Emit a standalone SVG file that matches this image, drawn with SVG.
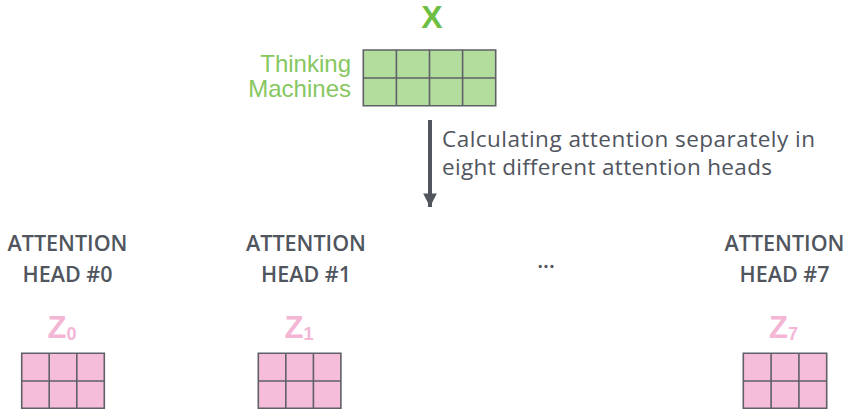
<svg xmlns="http://www.w3.org/2000/svg" width="854" height="416" viewBox="0 0 854 416">
<defs>
<style>
.head{font-family:"Open Sans","Liberation Sans",sans-serif;font-weight:600;font-size:21.5px;fill:#50555e;text-anchor:middle}
.cap{font-family:"Open Sans","Liberation Sans",sans-serif;font-size:22.5px;fill:#50555e}
.word{font-family:"Liberation Sans",Arial,sans-serif;font-size:24px;fill:#86c760;text-anchor:end}
.z{font-family:"Liberation Sans",Arial,sans-serif;font-weight:bold;font-size:31px;fill:#f4b6d5}
.zs{font-size:18px}
.x{font-family:"Liberation Sans",Arial,sans-serif;font-weight:bold;font-size:32px;fill:#6fbe44;text-anchor:middle}
.green{fill:#b3dd9c}
.pink{fill:#f5bdd9}
.grid{fill:none;stroke:#5f6068;stroke-width:1.6}
</style>
<marker id="ah" viewBox="0 0 10 10" refX="10" refY="5" markerWidth="3.4" markerHeight="3.4" markerUnits="strokeWidth" orient="auto">
<path d="M0,0 L10,5 L0,10 z" fill="#50555e"/>
</marker>
</defs>

<g id="input-x">
<text class="x" x="432" y="27.5">X</text>
<text class="word" x="351" y="72">Thinking</text>
<text class="word" x="351" y="97">Machines</text>
<rect class="green" x="363.3" y="50" width="132.4" height="55.7"/>
<path class="grid" d="M363.3,50 H495.7 V105.7 H363.3 Z M396.4,50 V105.7 M429.5,50 V105.7 M462.6,50 V105.7 M363.3,78 H495.7"/>
</g>

<g id="connectors">
<line x1="430" y1="120" x2="430" y2="207" stroke="#50555e" stroke-width="4" marker-end="url(#ah)"/>
</g>

<g id="caption">
<text class="cap" x="442" y="146.5" textLength="373" lengthAdjust="spacing">Calculating attention separately in</text>
<text class="cap" x="442" y="174.5" textLength="330" lengthAdjust="spacing">eight different attention heads</text>
</g>

<g id="head-0">
<text class="head" x="67.5" y="251">ATTENTION</text>
<text class="head" x="67.5" y="282">HEAD #0</text>
<text class="z" x="47.5" y="337.5">Z<tspan class="zs" dy="2">0</tspan></text>
<rect class="pink" x="21.7" y="353.3" width="82.6" height="55"/>
<path class="grid" d="M21.7,353.3 H104.3 V408.3 H21.7 Z M49.2,353.3 V408.3 M76.8,353.3 V408.3 M21.7,381 H104.3"/>
</g>

<g id="head-1">
<text class="head" x="306" y="251">ATTENTION</text>
<text class="head" x="306" y="282">HEAD #1</text>
<text class="z" x="284.5" y="337.5">Z<tspan class="zs" dy="2">1</tspan></text>
<rect class="pink" x="258.3" y="353.3" width="82.6" height="55"/>
<path class="grid" d="M258.3,353.3 H340.9 V408.3 H258.3 Z M285.8,353.3 V408.3 M313.4,353.3 V408.3 M258.3,381 H340.9"/>
</g>

<g id="ellipsis">
<text class="head" x="546" y="268">...</text>
</g>

<g id="head-7">
<text class="head" x="784.5" y="251">ATTENTION</text>
<text class="head" x="784.5" y="282">HEAD #7</text>
<text class="z" x="769" y="337.5">Z<tspan class="zs" dy="2">7</tspan></text>
<rect class="pink" x="743.3" y="353.3" width="83.4" height="55"/>
<path class="grid" d="M743.3,353.3 H826.7 V408.3 H743.3 Z M771.1,353.3 V408.3 M798.9,353.3 V408.3 M743.3,381 H826.7"/>
</g>
</svg>
